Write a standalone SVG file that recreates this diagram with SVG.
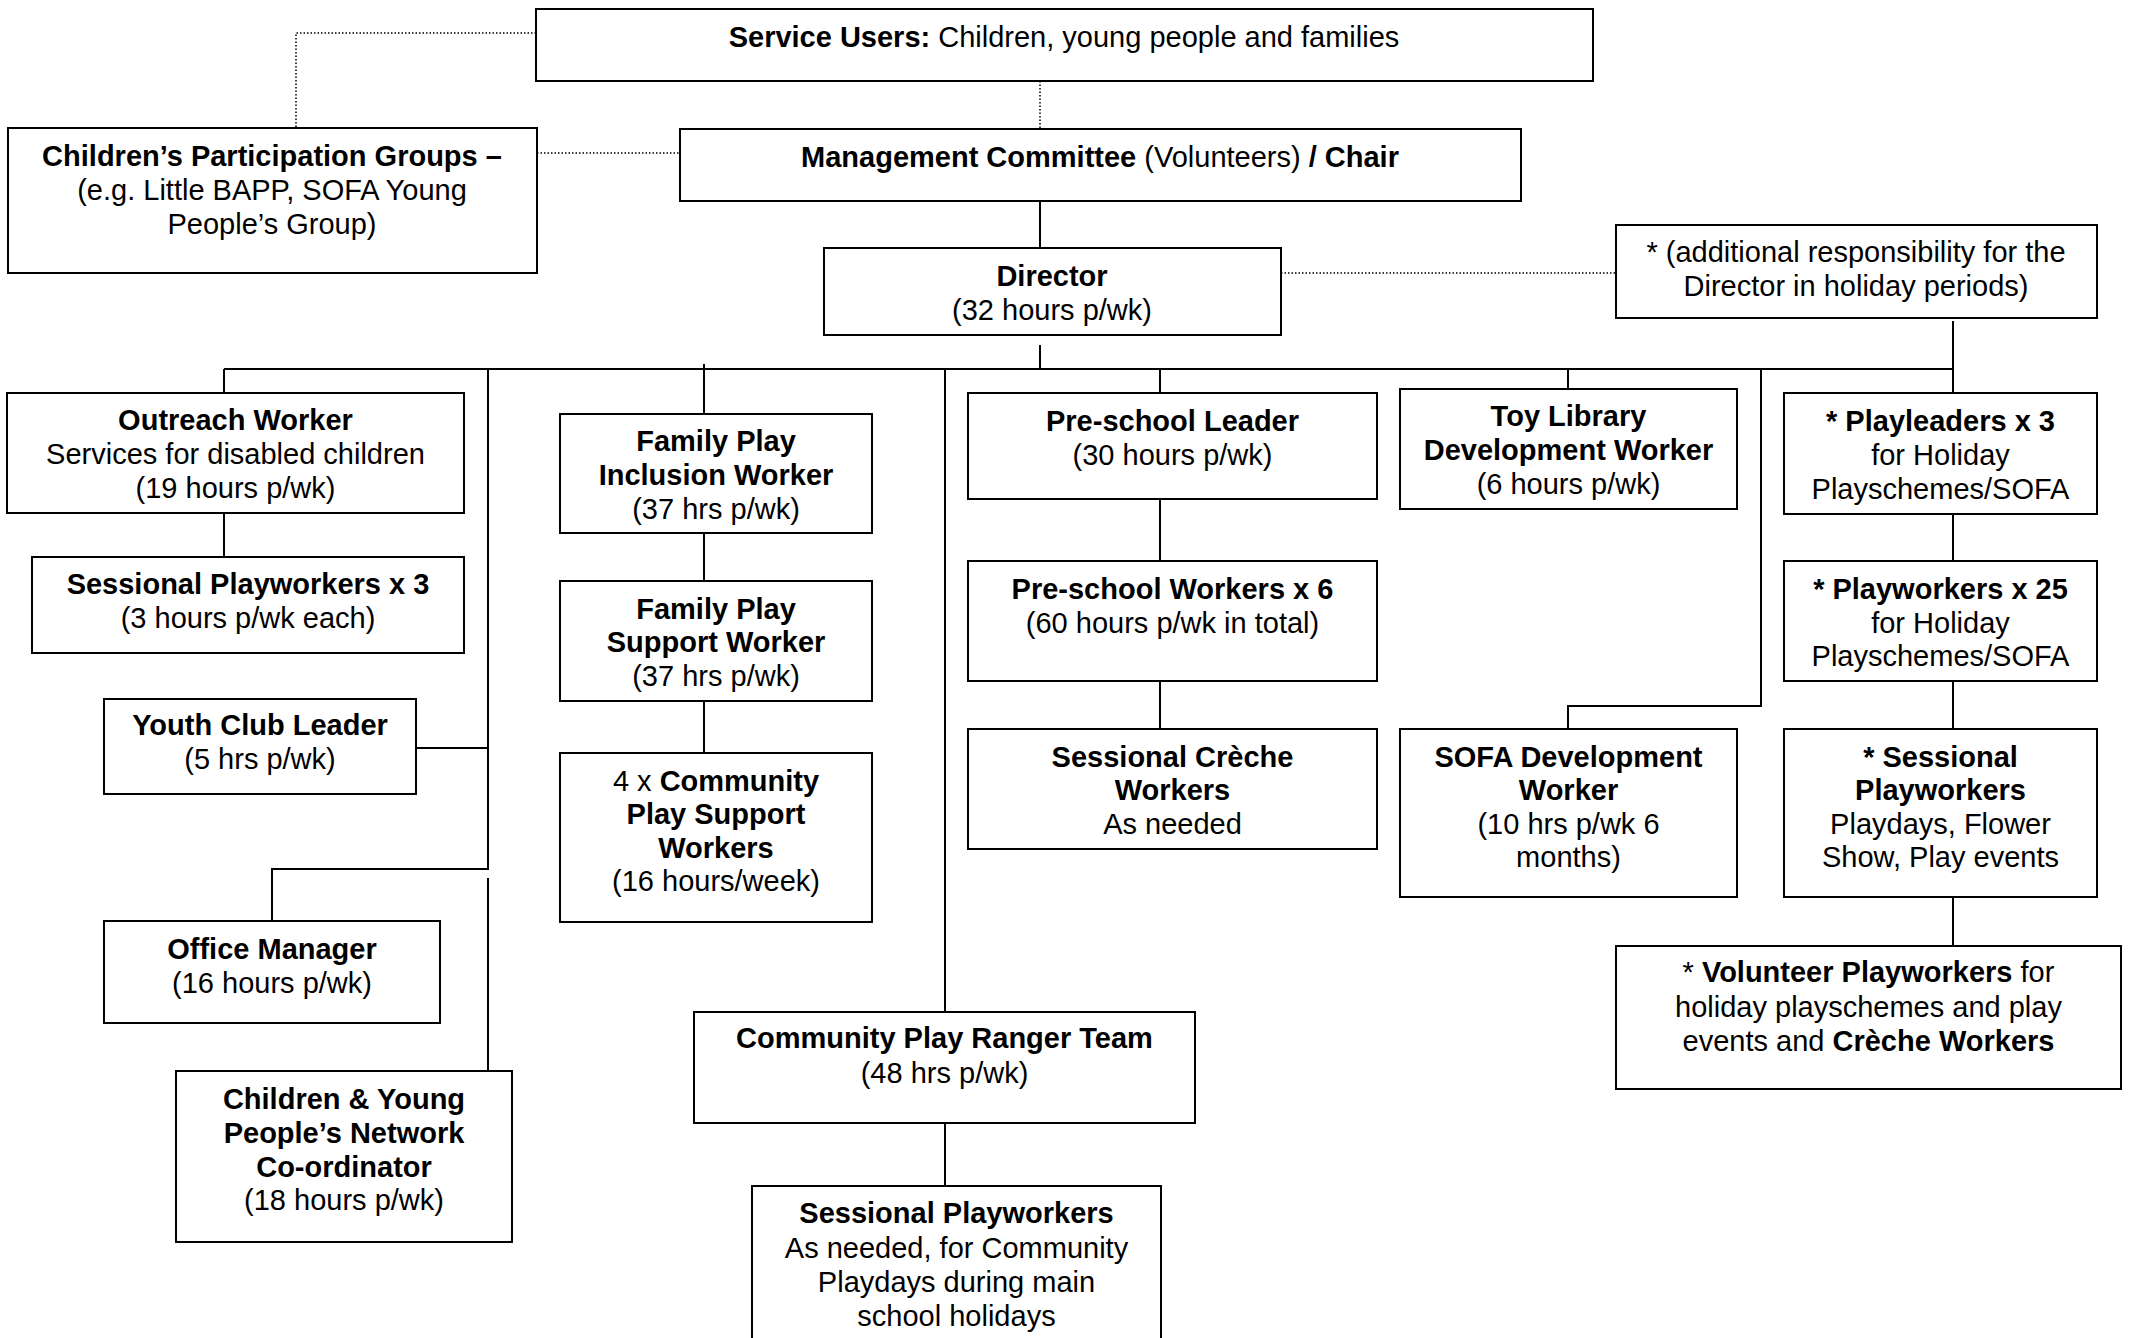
<svg xmlns="http://www.w3.org/2000/svg" width="2129" height="1338" viewBox="0 0 2129 1338">
<style>
.box{fill:#fff;stroke:#000;stroke-width:2}
.t{font-family:"Liberation Sans",Arial,sans-serif;font-size:29px;fill:#000;text-anchor:middle}
.b{font-weight:bold}
.ln{fill:none;stroke:#000;stroke-width:2}
.dot{fill:none;stroke:#000;stroke-width:1.5;stroke-dasharray:1.5 2}
</style>
<rect width="2129" height="1338" fill="#fff"/>
<g id="connectors">
<path class="dot" d="M536 33H296V128"/>
<path class="dot" d="M537 153H680"/>
<path class="dot" d="M1040 81V129"/>
<path class="dot" d="M1281 273H1616"/>
<path class="ln" d="M1040 201V248"/>
<path class="ln" d="M1040 345V369"/>
<path class="ln" d="M224 369H1953"/>
<path class="ln" d="M224 369V393"/>
<path class="ln" d="M224 513V557"/>
<path class="ln" d="M488 369V869H272V921"/>
<path class="ln" d="M416 748H488"/>
<path class="ln" d="M488 878V1071"/>
<path class="ln" d="M704 364V414"/>
<path class="ln" d="M704 533V581"/>
<path class="ln" d="M704 701V753"/>
<path class="ln" d="M945 369V1012"/>
<path class="ln" d="M945 1123V1186"/>
<path class="ln" d="M1160 369V393"/>
<path class="ln" d="M1160 499V561"/>
<path class="ln" d="M1160 681V729"/>
<path class="ln" d="M1568 369V389"/>
<path class="ln" d="M1761 369V706H1568V729"/>
<path class="ln" d="M1953 321V393"/>
<path class="ln" d="M1953 514V561"/>
<path class="ln" d="M1953 681V729"/>
<path class="ln" d="M1953 897V946"/>
</g>
<g id="service-users">
<rect class="box" x="536" y="9" width="1057" height="72"/>
<text class="t" x="1064" y="47"><tspan class="b">Service Users:</tspan> Children, young people and families</text>
</g>
<g id="participation-groups">
<rect class="box" x="8" y="128" width="529" height="145"/>
<text class="t" x="272" y="166"><tspan class="b">Children’s Participation Groups –</tspan></text>
<text class="t" x="272" y="200">(e.g. Little BAPP, SOFA Young</text>
<text class="t" x="272" y="234">People’s Group)</text>
</g>
<g id="management-committee">
<rect class="box" x="680" y="129" width="841" height="72"/>
<text class="t" x="1100" y="167"><tspan class="b">Management Committee</tspan> (Volunteers) <tspan class="b">/ Chair</tspan></text>
</g>
<g id="director">
<rect class="box" x="824" y="248" width="457" height="87"/>
<text class="t b" x="1052" y="286">Director</text>
<text class="t" x="1052" y="320">(32 hours p/wk)</text>
</g>
<g id="additional-note">
<rect class="box" x="1616" y="225" width="481" height="93"/>
<text class="t" x="1856" y="262">* (additional responsibility for the</text>
<text class="t" x="1856" y="296">Director in holiday periods)</text>
</g>
<g id="outreach-worker">
<rect class="box" x="7" y="393" width="457" height="120"/>
<text class="t b" x="235.5" y="430">Outreach Worker</text>
<text class="t" x="235.5" y="464">Services for disabled children</text>
<text class="t" x="235.5" y="498">(19 hours p/wk)</text>
</g>
<g id="sessional-playworkers-3">
<rect class="box" x="32" y="557" width="432" height="96"/>
<text class="t b" x="248" y="594">Sessional Playworkers x 3</text>
<text class="t" x="248" y="628">(3 hours p/wk each)</text>
</g>
<g id="youth-club-leader">
<rect class="box" x="104" y="699" width="312" height="95"/>
<text class="t b" x="260" y="735">Youth Club Leader</text>
<text class="t" x="260" y="769">(5 hrs p/wk)</text>
</g>
<g id="office-manager">
<rect class="box" x="104" y="921" width="336" height="102"/>
<text class="t b" x="272" y="959">Office Manager</text>
<text class="t" x="272" y="993">(16 hours p/wk)</text>
</g>
<g id="network-coordinator">
<rect class="box" x="176" y="1071" width="336" height="171"/>
<text class="t b" x="344" y="1109">Children &amp; Young</text>
<text class="t b" x="344" y="1143">People’s Network</text>
<text class="t b" x="344" y="1177">Co-ordinator</text>
<text class="t" x="344" y="1210">(18 hours p/wk)</text>
</g>
<g id="family-play-inclusion">
<rect class="box" x="560" y="414" width="312" height="119"/>
<text class="t b" x="716" y="451">Family Play</text>
<text class="t b" x="716" y="485">Inclusion Worker</text>
<text class="t" x="716" y="519">(37 hrs p/wk)</text>
</g>
<g id="family-play-support">
<rect class="box" x="560" y="581" width="312" height="120"/>
<text class="t b" x="716" y="619">Family Play</text>
<text class="t b" x="716" y="652">Support Worker</text>
<text class="t" x="716" y="686">(37 hrs p/wk)</text>
</g>
<g id="community-play-support">
<rect class="box" x="560" y="753" width="312" height="169"/>
<text class="t" x="716" y="791">4 x <tspan class="b">Community</tspan></text>
<text class="t b" x="716" y="824">Play Support</text>
<text class="t b" x="716" y="858">Workers</text>
<text class="t" x="716" y="891">(16 hours/week)</text>
</g>
<g id="preschool-leader">
<rect class="box" x="968" y="393" width="409" height="106"/>
<text class="t b" x="1172.5" y="431">Pre-school Leader</text>
<text class="t" x="1172.5" y="465">(30 hours p/wk)</text>
</g>
<g id="preschool-workers">
<rect class="box" x="968" y="561" width="409" height="120"/>
<text class="t b" x="1172.5" y="599">Pre-school Workers x 6</text>
<text class="t" x="1172.5" y="633">(60 hours p/wk in total)</text>
</g>
<g id="creche-workers">
<rect class="box" x="968" y="729" width="409" height="120"/>
<text class="t b" x="1172.5" y="767">Sessional Crèche</text>
<text class="t b" x="1172.5" y="800">Workers</text>
<text class="t" x="1172.5" y="834">As needed</text>
</g>
<g id="toy-library">
<rect class="box" x="1400" y="389" width="337" height="120"/>
<text class="t b" x="1568.5" y="426">Toy Library</text>
<text class="t b" x="1568.5" y="460">Development Worker</text>
<text class="t" x="1568.5" y="494">(6 hours p/wk)</text>
</g>
<g id="sofa-development">
<rect class="box" x="1400" y="729" width="337" height="168"/>
<text class="t b" x="1568.5" y="767">SOFA Development</text>
<text class="t b" x="1568.5" y="800">Worker</text>
<text class="t" x="1568.5" y="834">(10 hrs p/wk 6</text>
<text class="t" x="1568.5" y="867">months)</text>
</g>
<g id="playleaders">
<rect class="box" x="1784" y="393" width="313" height="121"/>
<text class="t b" x="1940.5" y="431">* Playleaders x 3</text>
<text class="t" x="1940.5" y="465">for Holiday</text>
<text class="t" x="1940.5" y="499">Playschemes/SOFA</text>
</g>
<g id="playworkers-25">
<rect class="box" x="1784" y="561" width="313" height="120"/>
<text class="t b" x="1940.5" y="599">* Playworkers x 25</text>
<text class="t" x="1940.5" y="633">for Holiday</text>
<text class="t" x="1940.5" y="666">Playschemes/SOFA</text>
</g>
<g id="sessional-playworkers-holiday">
<rect class="box" x="1784" y="729" width="313" height="168"/>
<text class="t b" x="1940.5" y="767">* Sessional</text>
<text class="t b" x="1940.5" y="800">Playworkers</text>
<text class="t" x="1940.5" y="834">Playdays, Flower</text>
<text class="t" x="1940.5" y="867">Show, Play events</text>
</g>
<g id="volunteer-playworkers">
<rect class="box" x="1616" y="946" width="505" height="143"/>
<text class="t" x="1868.5" y="982">* <tspan class="b">Volunteer Playworkers</tspan> for</text>
<text class="t" x="1868.5" y="1017">holiday playschemes and play</text>
<text class="t" x="1868.5" y="1051">events and <tspan class="b">Crèche Workers</tspan></text>
</g>
<g id="play-ranger-team">
<rect class="box" x="694" y="1012" width="501" height="111"/>
<text class="t b" x="944.5" y="1048">Community Play Ranger Team</text>
<text class="t" x="944.5" y="1083">(48 hrs p/wk)</text>
</g>
<g id="sessional-playworkers-community">
<rect class="box" x="752" y="1186" width="409" height="160"/>
<text class="t b" x="956.5" y="1223">Sessional Playworkers</text>
<text class="t" x="956.5" y="1258">As needed, for Community</text>
<text class="t" x="956.5" y="1292">Playdays during main</text>
<text class="t" x="956.5" y="1326">school holidays</text>
</g>
</svg>
